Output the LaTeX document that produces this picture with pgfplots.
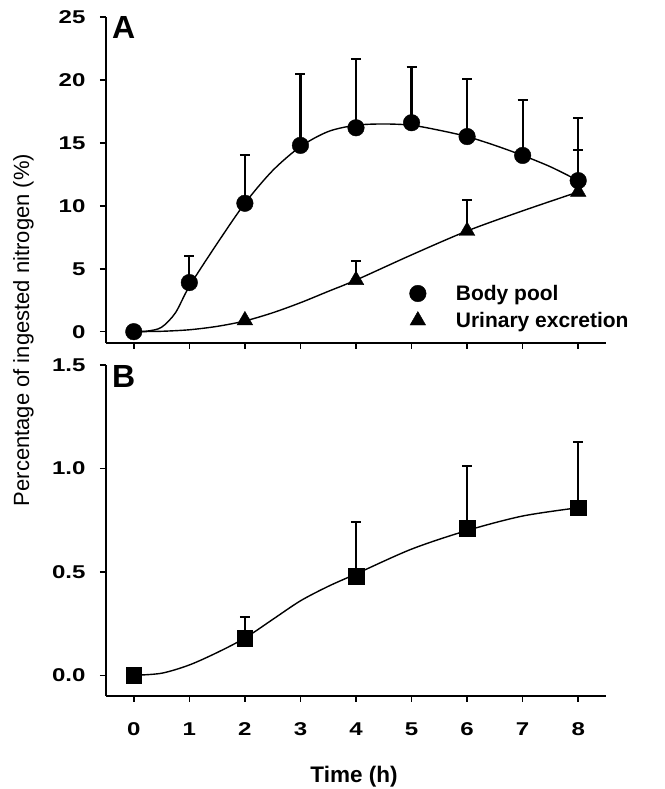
\documentclass[border=0pt]{standalone}
\usepackage{fontspec}
\setmainfont{Liberation Sans}
\newfontfamily\tickfont[FakeStretch=1.3]{Liberation Sans}
\usepackage{pgfplots}
\pgfplotsset{compat=1.18}

\pgfplotsset{
  panel/.style={
    scale only axis, width=500pt,
    xmin=-0.5, xmax=8.5,
    axis lines=left,
    axis line style={line width=1.8pt, -},
    tick style={line width=1.6pt, black},
    tick align=outside, major tick length=6pt,
    xtick={0,...,8},
    tick label style={font=\tickfont\bfseries\fontsize{18.5}{21}\selectfont},
    yticklabel style={xshift=-11pt},
    /pgf/number format/assume math mode=true,
    clip=false,
  },
  fitline/.style={black, line width=1.4pt, smooth, no markers, forget plot},
}

\begin{document}
\begin{tikzpicture}
\useasboundingbox (0,0) rectangle (664pt,789pt);

% Panel A: body pool and urinary excretion
\begin{axis}[panel, at={(106pt,446pt)}, anchor=south west, height=326pt,
  ymin=-0.9, ymax=25, ytick={0,5,...,25}, xticklabels={},
  legend style={at={(axis cs:4.93,4.0)}, anchor=north west, draw=none, fill=none,
    font=\bfseries\fontsize{21}{24}\selectfont, inner sep=0pt,
    nodes={inner sep=2pt}, row sep=3pt},
  legend cell align=left,
  legend image code/.code={\draw[#1] plot coordinates {(0pt,0pt)};
    \path[draw=none, fill=none] (-10pt,-12pt) rectangle (36pt,12pt);},
]
\addplot[fitline] coordinates {
  (0,0) (0.25,0.05) (0.5,0.35) (0.75,1.5) (1,3.6) (1.5,7.0) (2,10.2)
  (2.5,12.8) (3,14.7) (3.5,15.9) (4,16.4) (4.5,16.5) (5,16.4) (5.5,16.0)
  (6,15.5) (6.5,14.8) (7,14.0) (7.5,13.1) (8,12.0)};
\addplot[fitline] coordinates {
  (0,0) (0.5,0.03) (1,0.15) (1.5,0.42) (2,0.85) (2.5,1.5) (3,2.3)
  (3.5,3.2) (4,4.1) (5,6.1) (6,8.0) (7,9.6) (8,11.1)};
\addplot[black, only marks, mark=*, mark size=8.3pt,
  error bars/.cd, y dir=plus, y explicit, error mark=-,
  error bar style={line width=2.2pt, black},
  error mark options={rotate=90, line width=2pt, mark size=5pt, black}]
  table[x=t, y=m, y error=e] {
  t m    e
  0 0.0  0.0
  1 3.9  2.1
  2 10.2 3.8
  3 14.8 5.7
  4 16.2 5.5
  5 16.6 4.4
  6 15.5 4.6
  7 14.0 4.4
  8 12.0 5.0
};
\addlegendentry{Body pool}
\addplot[black, only marks, mark=triangle*, mark size=9pt,
  error bars/.cd, y dir=plus, y explicit, error mark=-,
  error bar style={line width=2.2pt, black},
  error mark options={rotate=90, line width=2pt, mark size=5pt, black}]
  table[x=t, y=m, y error=e] {
  t m    e
  2 0.9  0.0
  4 4.1  1.5
  6 8.0  2.5
  8 11.1 3.3
};
\addlegendentry{Urinary excretion}
\end{axis}

% Panel B
\begin{axis}[panel, at={(106pt,93pt)}, anchor=south west, height=331pt,
  ymin=-0.1, ymax=1.5, ytick={0,0.5,1,1.5},
  yticklabel style={/pgf/number format/.cd, fixed, fixed zerofill, precision=1},
  xticklabel style={yshift=-17pt},
]
\addplot[fitline] coordinates {
  (0,0) (0.5,0.01) (1,0.05) (1.5,0.11) (2,0.18) (2.5,0.27) (3,0.36)
  (3.5,0.43) (4,0.49) (5,0.61) (6,0.70) (7,0.77) (8,0.81)};
\addplot[black, only marks, mark=square*, mark size=7.8pt,
  error bars/.cd, y dir=plus, y explicit, error mark=-,
  error bar style={line width=2.2pt, black},
  error mark options={rotate=90, line width=2pt, mark size=5pt, black}]
  table[x=t, y=m, y error=e] {
  t m    e
  0 0.00 0.00
  2 0.18 0.10
  4 0.48 0.26
  6 0.71 0.30
  8 0.81 0.32
};
\end{axis}

\node[anchor=base west, inner sep=0pt, font=\bfseries\fontsize{32}{36}\selectfont] at (112pt,750pt) {A};
\node[anchor=base west, inner sep=0pt, font=\bfseries\fontsize{32}{36}\selectfont] at (112pt,401pt) {B};
\node[rotate=90, anchor=base, inner sep=0pt, font=\fontsize{22}{26}\selectfont] at (29pt,459pt) {Percentage of ingested nitrogen (\%)};
\node[anchor=base, inner sep=0pt, font=\bfseries\fontsize{22.5}{26}\selectfont] at (354pt,6pt) {Time (h)};
\end{tikzpicture}
\end{document}
